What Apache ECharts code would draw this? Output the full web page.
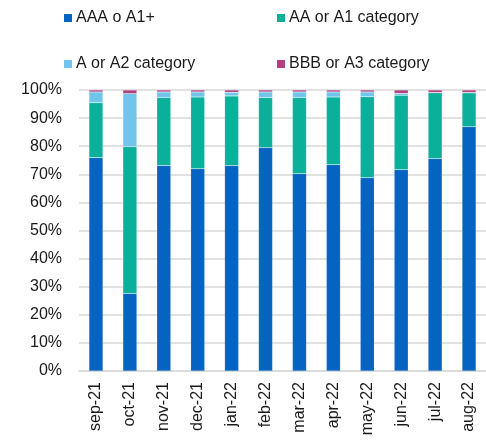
<!DOCTYPE html>
<html>
<head>
<meta charset="utf-8">
<script src="https://cdn.jsdelivr.net/npm/echarts@6/dist/echarts.min.js"></script>
<style>
html, body { margin: 0; padding: 0; background: #fff; }
#chart { width: 486px; height: 441px; }
</style>
</head>
<body>
<div id="chart"></div>
<script>
// months
var categories = ['sep-21', 'oct-21', 'nov-21', 'dec-21', 'jan-22', 'feb-22', 'mar-22', 'apr-22', 'may-22', 'jun-22', 'jul-22', 'aug-22'];

// shares in %
var aaa = [75.9, 27.6, 73.1, 72.0, 73.1, 79.5, 70.2, 73.4, 68.8, 71.6, 75.6, 86.9];
var aa  = [19.6, 52.2, 24.2, 25.5, 24.8, 17.8, 27.1, 24.1, 28.8, 26.5, 23.4, 12.1];
var a   = [3.8, 18.9, 2.0, 1.8, 1.3, 2.0, 2.0, 1.8, 1.7, 0.7, 0.1, 0.1];
var bbb = [0.7, 1.3, 0.7, 0.7, 0.8, 0.7, 0.7, 0.7, 0.7, 1.2, 0.9, 0.9];

var names = ['AAA o A1+', 'AA or A1 category', 'A or A2 category', 'BBB or A3 category'];
var colors = ['#0563C1', '#0BB09A', '#71C5EA', '#B0407F'];

var font = 'Liberation Sans, Arial, sans-serif';

function legendAt(name, left, top) {
	return {
		data: [name],
		left: left,
		top: top,
		icon: 'rect',
		itemWidth: 8,
		itemHeight: 8,
		itemGap: 0,
		padding: 0,
		itemStyle: { borderWidth: 0 },
		textStyle: { fontFamily: font, fontSize: 16, color: '#1a1a1a', padding: [0, 0, 0, -1] },
		selectedMode: false
	};
}

function bar(i, values) {
	return {
		name: names[i],
		type: 'bar',
		stack: 'total',
		barWidth: 14,
		data: values,
		itemStyle: {
			color: colors[i],
			borderColor: 'rgba(255,255,255,0.25)',
			borderWidth: 0.5
		}
	};
}

var chart = echarts.init(document.getElementById('chart'));
chart.setOption({
	animation: false,
	color: colors,
	legend: [
		legendAt(names[0], 64, 10),
		legendAt(names[1], 277, 10),
		legendAt(names[2], 64, 56),
		legendAt(names[3], 277, 56)
	],
	grid: {
		left: 79,
		right: 0,
		top: 90,
		bottom: 70,
		containLabel: false
	},
	xAxis: {
		type: 'category',
		data: categories,
		axisLine: { lineStyle: { color: '#d9d9d9', width: 1.5 } },
		axisTick: { show: false },
		axisLabel: {
			rotate: 90,
			margin: 11,
			interval: 0,
			fontFamily: font,
			fontSize: 16,
			color: '#1a1a1a'
		}
	},
	yAxis: {
		type: 'value',
		min: 0,
		max: 100,
		interval: 10,
		axisLine: { show: false },
		axisTick: { show: false },
		splitLine: { lineStyle: { color: '#d9d9d9', width: 1.5 } },
		axisLabel: {
			margin: 17,
			fontFamily: font,
			fontSize: 16,
			color: '#1a1a1a',
			formatter: '{value}%'
		}
	},
	series: [bar(0, aaa), bar(1, aa), bar(2, a), bar(3, bbb)]
});
</script>
</body>
</html>
